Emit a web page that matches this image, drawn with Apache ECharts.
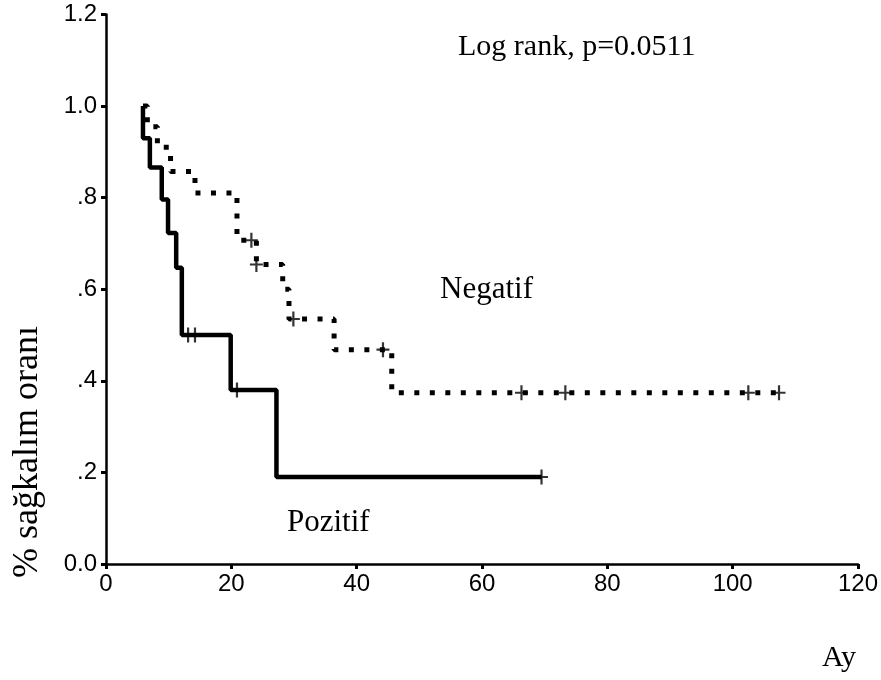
<!DOCTYPE html>
<html>
<head>
<meta charset="utf-8">
<script src="https://cdn.jsdelivr.net/npm/echarts@6/dist/echarts.min.js"></script>
<style>html,body{margin:0;padding:0;background:#fff;}#c{width:881px;height:680px;}</style>
</head>
<body>
<div id="c"></div>
<script>
// Pozitif (solid) Kaplan-Meier steps
const posTime = [5.9, 5.9, 7.0, 8.9, 9.9, 11.2, 12.1, 19.9, 27.2, 69.5];
const posSurv = [1.0, 0.93, 0.866, 0.796, 0.723, 0.647, 0.5, 0.38, 0.19, 0.19];
const posCensorTime = [13.1, 14.2, 20.9, 69.5];
const posCensorSurv = [0.5, 0.5, 0.38, 0.19];
// Negatif (dotted) Kaplan-Meier steps
const negTime = [5.9, 6.6, 8.2, 10.3, 14.2, 20.9, 24.0, 28.2, 29.2, 36.4, 45.6, 107.4];
const negSurv = [1.0, 0.955, 0.91, 0.857, 0.81, 0.707, 0.654, 0.60, 0.535, 0.468, 0.374, 0.374];
const negCensorTime = [23.2, 24.0, 29.9, 44.2, 66.3, 73.3, 102.5, 107.4];
const negCensorSurv = [0.707, 0.654, 0.535, 0.468, 0.374, 0.374, 0.374, 0.374];
const xTicks = [0, 20, 40, 60, 80, 100, 120];
const yTickLabels = ['0.0', '.2', '.4', '.6', '.8', '1.0', '1.2'];

const zip = (a, b) => a.map((v, i) => [v, b[i]]);
const plus = 'path://M0,6.4h13v2.2h-13zM5.4,0h2.2v15h-2.2z';
const chart = echarts.init(document.getElementById('c'), null, {renderer: 'canvas'});
const tickFont = '"Liberation Sans", Arial, sans-serif';
const serif = '"Liberation Serif", "Times New Roman", serif';
chart.setOption({
  animation: false,
  backgroundColor: '#fff',
  grid: {left: 106, right: 23, top: 14.5, bottom: 116},
  xAxis: {
    type: 'value', min: xTicks[0], max: xTicks[xTicks.length - 1], interval: 20,
    axisLine: {lineStyle: {color: '#000', width: 2.5}},
    axisTick: {show: true, length: 5, lineStyle: {color: '#000', width: 3}},
    axisLabel: {color: '#000', fontSize: 24, fontFamily: tickFont, margin: 8},
    splitLine: {show: false}
  },
  yAxis: {
    type: 'value', min: 0, max: 1.2, interval: 0.2,
    axisLine: {show: true, lineStyle: {color: '#000', width: 2.5}},
    axisTick: {show: true, length: 5, lineStyle: {color: '#000', width: 3}},
    axisLabel: {color: '#000', fontSize: 24, fontFamily: tickFont, margin: 9,
      formatter: v => yTickLabels[Math.round(v / 0.2)]},
    splitLine: {show: false}
  },
  series: [
    {type: 'line', name: 'Pozitif', step: 'end', data: zip(posTime, posSurv), showSymbol: false,
     lineStyle: {color: '#000', width: 4.5}},
    {type: 'line', name: 'Negatif', step: 'end', data: zip(negTime, negSurv), showSymbol: false,
     lineStyle: {color: '#000', width: 5, type: [5, 10.5], cap: 'butt'}},
    {type: 'scatter', data: zip(posCensorTime, posCensorSurv), symbol: plus, symbolSize: [13, 15],
     itemStyle: {color: '#000'}},
    {type: 'scatter', data: zip(negCensorTime, negCensorSurv), symbol: plus, symbolSize: [13, 15],
     itemStyle: {color: '#000'}}
  ],
  graphic: [
    {type: 'text', left: 458, top: 32, style: {text: 'Log rank, p=0.0511', font: '30px ' + serif, fill: '#000'}},
    {type: 'text', left: 440, top: 274, style: {text: 'Negatif', font: '31px ' + serif, fill: '#000'}},
    {type: 'text', left: 287, top: 507, style: {text: 'Pozitif', font: '31px ' + serif, fill: '#000'}},
    {type: 'text', left: 822, top: 643, style: {text: 'Ay', font: '30px ' + serif, fill: '#000'}},
    {type: 'text', x: 28, y: 452, rotation: Math.PI / 2,
     style: {text: '% sağkalım oranı', font: '36px ' + serif, fill: '#000', align: 'center', verticalAlign: 'middle'}}
  ]
});
</script>
</body>
</html>
